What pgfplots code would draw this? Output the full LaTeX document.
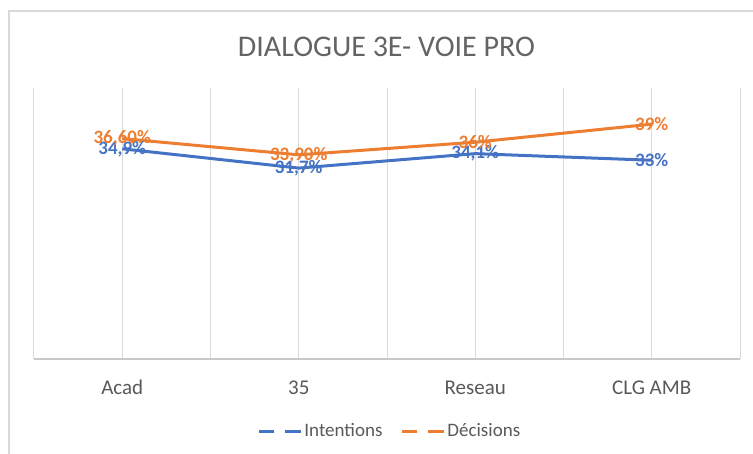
\documentclass[border=0pt]{standalone}
\usepackage{pgfplots}
\pgfplotsset{compat=1.18}
\usepackage{fontspec}
\setmainfont{Carlito}
\definecolor{cblue}{HTML}{4472C4}
\definecolor{corange}{HTML}{ED7D31}
\definecolor{cgrid}{HTML}{D9D9D9}
\definecolor{caxis}{HTML}{C8C8C8}
\definecolor{ctext}{HTML}{595959}
\definecolor{ctitle}{HTML}{646464}
\begin{document}
\begin{tikzpicture}[x=1pt,y=1pt]
\useasboundingbox (0,0) rectangle (753,454);
\draw[cgrid, line width=2pt] (9,0) -- (9,443) -- (753,443);
\node[ctitle, anchor=base, font=\fontsize{30}{36}\selectfont] at (386.5,397) {DIALOGUE 3E- VOIE PRO};
\begin{axis}[
  at={(34pt,95pt)}, anchor=south west,
  scale only axis, width=706pt, height=271pt,
  xmin=-0.5, xmax=3.5, ymin=0, ymax=45,
  axis x line*=bottom, axis y line=none,
  xtick={0,1,2,3}, xticklabels={Acad,35,Reseau,CLG AMB},
  minor xtick={-0.5,0.5,1.5,2.5,3.5},
  xmajorgrids, xminorgrids,
  major grid style={cgrid, line width=1pt},
  minor grid style={cgrid, line width=1pt},
  major tick length=0pt, minor tick length=0pt,
  x axis line style={caxis, line width=1.5pt},
  xticklabel style={text=ctext, font=\fontsize{21}{25}\selectfont, anchor=base, yshift=-36pt},
  clip=false,
  point meta=explicit symbolic,
  legend style={at={(0.504,-0.266)}, anchor=center, draw=none, fill=none,
    legend columns=-1, font=\fontsize{19}{23}\selectfont, text=ctext,
    /tikz/every even column/.append style={column sep=16pt}},
  legend image code/.code={
    \draw[#1, line width=3pt] (0pt,0pt) -- (15pt,0pt);
    \draw[#1, line width=3pt] (26pt,0pt) -- (42pt,0pt);},
]
\addplot[cblue, line width=3pt, line join=round, nodes near coords,
  every node near coord/.append style={font=\bfseries\fontsize{19}{23}\selectfont, text=cblue, anchor=center}]
  table[meta=label] {
x y label
0 34.9 34,9\%
1 31.7 31,7\%
2 34.1 34,1\%
3 33.0 33\%
};
\addlegendentry{Intentions}
\addplot[corange, line width=3pt, line join=round, nodes near coords,
  every node near coord/.append style={font=\bfseries\fontsize{19}{23}\selectfont, text=corange, anchor=center}]
  table[meta=label] {
x y label
0 36.6 36,60\%
1 33.9 33,90\%
2 36.0 36\%
3 39.0 39\%
};
\addlegendentry{Décisions}
\end{axis}
\end{tikzpicture}
\end{document}
